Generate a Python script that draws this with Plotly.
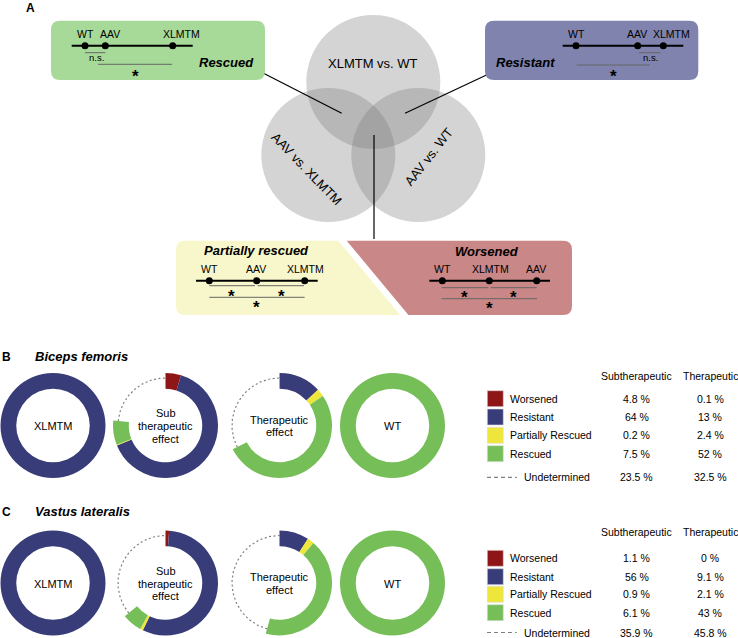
import math
import plotly.graph_objects as go

# ---------------- data ----------------
categories = ["Worsened", "Resistant", "Partially Rescued", "Rescued", "Undetermined"]
column_headers = ["Subtherapeutic", "Therapeutic"]
biceps_sub = [4.8, 64, 0.2, 7.5, 23.5]
biceps_ther = [0.1, 13, 2.4, 52, 32.5]
vastus_sub = [1.1, 56, 0.9, 6.1, 35.9]
vastus_ther = [0, 9.1, 2.1, 43, 45.8]
xlmtm_ring = [0, 100, 0, 0, 0]
wt_ring = [0, 0, 0, 100, 0]
donut_titles = [["XLMTM"], ["Sub", "therapeutic", "effect"], ["Therapeutic", "effect"], ["WT"]]
panel_titles = ["Biceps femoris", "Vastus lateralis"]
venn_labels = ["XLMTM vs. WT", "AAV vs. XLMTM", "AAV vs. WT"]

# ---------------- style ----------------
W, H = 738, 638
FONT = "Arial, 'Liberation Sans', Helvetica, sans-serif"
cat_colors = ["#8E1616", "#383C78", "#EEE63A", "#76BE58", "rgba(0,0,0,0)"]
DASH_COLOR = "#808080"

fig = go.Figure()
shapes = []
annos = []


def text(x, y, s, size=10.5, color="black", xanchor="center", bold=False, italic=False, angle=0):
    if bold:
        s = "<b>" + s + "</b>"
    if italic:
        s = "<i>" + s + "</i>"
    annos.append(dict(x=x, y=y, xref="x", yref="y", text=s, showarrow=False,
                      xanchor=xanchor, yanchor="middle", textangle=angle,
                      font=dict(family=FONT, size=size, color=color)))


def line(x0, y0, x1, y1, color="black", width=1, dash="solid"):
    shapes.append(dict(type="line", xref="x", yref="y", x0=x0, y0=y0, x1=x1, y1=y1,
                       line=dict(color=color, width=width, dash=dash), layer="below"))


def path(d, fill):
    shapes.append(dict(type="path", xref="x", yref="y", path=d, fillcolor=fill,
                       line=dict(width=0), layer="below"))


def rrect(x0, y0, x1, y1, r):
    return (f"M{x0+r},{y0} L{x1-r},{y0} Q{x1},{y0} {x1},{y0+r} L{x1},{y1-r} "
            f"Q{x1},{y1} {x1-r},{y1} L{x0+r},{y1} Q{x0},{y1} {x0},{y1-r} "
            f"L{x0},{y0+r} Q{x0},{y0} {x0+r},{y0} Z")


# ---------------- panel A : Venn ----------------
VR = 67
venn_centers = [(373.3, 82), (328.3, 155), (418.3, 155)]
for cx, cy in venn_centers:
    shapes.append(dict(type="circle", xref="x", yref="y", x0=cx - VR, x1=cx + VR,
                       y0=cy - VR, y1=cy + VR, fillcolor="rgba(125,125,125,0.33)",
                       line=dict(width=0), layer="below"))
text(373.3, 63, venn_labels[0], size=13)
text(306.5, 168, venn_labels[1], size=13, angle=46)
text(428, 157, venn_labels[2], size=13, angle=-52)

# connectors
line(263.5, 73.3, 341.7, 113.3, width=1.2)
line(486.5, 75, 405, 113.3, width=1.2)
line(374, 135, 374, 239, width=1.2)

# boxes
path(rrect(51, 20.7, 265, 80, 9), "#A7D999")
path(rrect(485, 20.7, 698.3, 80, 9), "#7F83AE")
r = 9
path(f"M{176+r},240.7 L338.3,240.7 L400,315 L{176+r},315 Q176,315 176,{315-r} "
     f"L176,{240.7+r} Q176,240.7 {176+r},240.7 Z", "#F8F7CB")
path(f"M346.7,240.7 L{572-r},240.7 Q572,240.7 572,{240.7+r} L572,{315-r} "
     f"Q572,315 {572-r},315 L408.4,315 Z", "#C98787")

dot_x, dot_y = [], []


def scheme(x0, x1, y, dots, labels, label_y):
    line(x0, y, x1, y, width=2)
    for dx in dots:
        dot_x.append(dx)
        dot_y.append(y)
    for (lx, s) in labels:
        text(lx, label_y, s, size=10.5)


def star(x, y):
    text(x, y + 4.5, "*", size=17, bold=True)


GRAY = "#666666"
# Rescued
scheme(71.7, 192.7, 45.7, [85, 105.3, 172.7], [(85, "WT"), (109.5, "AAV"), (181, "XLMTM")], 34.3)
line(85, 52.7, 105.3, 52.7, color=GRAY)
text(96, 57.8, "n.s.", size=9.5)
line(98, 64.3, 172, 64.3, color=GRAY)
star(135, 71.5)
text(256, 62.3, "Rescued", size=13, bold=True, italic=True, xanchor="right")

# Resistant
scheme(562.7, 683.3, 45.7, [576, 637.7, 663.3], [(576, "WT"), (636.7, "AAV"), (671.7, "XLMTM")], 34.3)
line(639, 52.7, 660.7, 52.7, color=GRAY)
text(650, 57.8, "n.s.", size=9.5)
line(576.7, 65, 650, 65, color=GRAY)
star(613.3, 71.7)
text(525.7, 62.3, "Resistant", size=13, bold=True, italic=True)

# Partially rescued
text(256.7, 250.7, "Partially rescued", size=13, bold=True, italic=True)
scheme(196, 317.7, 280.7, [209.3, 256.7, 304.7], [(209.3, "WT"), (256, "AAV"), (305, "XLMTM")], 269.3)
line(209.3, 285.7, 255, 285.7, color=GRAY)
line(257.7, 285.7, 304, 285.7, color=GRAY)
star(231.7, 291.7)
star(281, 291.7)
line(209.3, 297.3, 304.7, 297.3, color=GRAY)
star(256.7, 303.3)

# Worsened
text(486.7, 251.7, "Worsened", size=13, bold=True, italic=True)
scheme(429.3, 550, 280.7, [442.3, 489.3, 536.7], [(442.3, "WT"), (490, "XLMTM"), (536, "AAV")], 269)
line(441.7, 287.7, 488.3, 287.7, color=GRAY)
line(490.7, 287.7, 536.7, 287.7, color=GRAY)
star(464.3, 292.7)
star(513.3, 292.7)
line(441.7, 298.7, 537, 298.7, color=GRAY)
star(489.3, 304)

fig.add_trace(go.Scatter(x=dot_x, y=dot_y, mode="markers",
                         marker=dict(size=7, color="black"), hoverinfo="skip"))

text(30, 8, "A", size=12, bold=True)

# ---------------- panels B & C : donuts ----------------
RO = 52.5
R_DASH = 47.5
donut_x = [53, 165.5, 279.5, 392.5]
panels = [
    dict(letter="B", title=panel_titles[0], cy=425.5, letter_y=356.7,
         rings=[xlmtm_ring, biceps_sub, biceps_ther, wt_ring],
         header_y=375.7, row_y=[398.7, 417, 435.3, 453.7], und_y=477.3,
         sub=biceps_sub, ther=biceps_ther),
    dict(letter="C", title=panel_titles[1], cy=583, letter_y=511.7,
         rings=[xlmtm_ring, vastus_sub, vastus_ther, wt_ring],
         header_y=532.3, row_y=[558.3, 576.7, 594.3, 612.7], und_y=632.5,
         sub=vastus_sub, ther=vastus_ther),
]

for p in panels:
    cy = p["cy"]
    text(6, p["letter_y"], p["letter"], size=12, bold=True)
    text(33, p["letter_y"], p["title"], size=13, bold=True, italic=True, xanchor="left")
    for i, (cx, vals) in enumerate(zip(donut_x, p["rings"])):
        fig.add_trace(go.Pie(
            values=vals, labels=categories, sort=False, direction="clockwise",
            rotation=0, hole=0.70, textinfo="none", hoverinfo="skip",
            marker=dict(colors=cat_colors, line=dict(width=0)),
            domain=dict(x=[(cx - RO) / W, (cx + RO) / W],
                        y=[1 - (cy + RO) / H, 1 - (cy - RO) / H]),
        ))
        # undetermined portion as a dashed arc
        if vals[4] > 0:
            a0 = sum(vals[:4]) * 3.6
            a1 = 360.0
            n = 90
            th = [math.radians(a0 + (a1 - a0) * k / n) for k in range(n + 1)]
            fig.add_trace(go.Scatter(
                x=[cx + R_DASH * math.sin(t) for t in th],
                y=[cy - R_DASH * math.cos(t) for t in th],
                mode="lines", line=dict(color=DASH_COLOR, width=1.2, dash="2px,2.5px"),
                hoverinfo="skip"))
        lines_ = donut_titles[i]
        nL = len(lines_)
        for k, s in enumerate(lines_):
            text(cx, cy + (k - (nL - 1) / 2) * 12.6 + 0.5, s, size=11)

    # legend table
    text(636.7, p["header_y"], column_headers[0], size=10.5)
    text(710, p["header_y"], column_headers[1], size=10.5)
    for j in range(4):
        yy = p["row_y"][j]
        shapes.append(dict(type="rect", xref="x", yref="y", x0=487.3, x1=503.3,
                           y0=yy - 8, y1=yy + 8, fillcolor=cat_colors[j],
                           line=dict(width=0.6, color="#DDDDDD"), layer="below"))
        text(508.3, yy, categories[j], size=10.5, xanchor="left")
        text(636.7, yy, f"{p['sub'][j]:g} %", size=10.5)
        text(710, yy, f"{p['ther'][j]:g} %", size=10.5)
    yy = p["und_y"]
    line(487, yy, 516.7, yy, color=DASH_COLOR, width=1.2, dash="4px,3px")
    text(522.3, yy, categories[4], size=10.5, xanchor="left")
    text(636.7, yy, f"{p['sub'][4]:g} %", size=10.5)
    text(710, yy, f"{p['ther'][4]:g} %", size=10.5)

fig.update_layout(
    width=W, height=H, autosize=False,
    margin=dict(l=0, r=0, t=0, b=0, pad=0),
    paper_bgcolor="white", plot_bgcolor="white", showlegend=False,
    xaxis=dict(range=[0, W], visible=False, fixedrange=True, domain=[0, 1]),
    yaxis=dict(range=[H, 0], visible=False, fixedrange=True, domain=[0, 1]),
    shapes=shapes, annotations=annos,
)

fig.write_html("out.html", config={"displayModeBar": False},
               post_script="document.body.style.margin='0px';")
